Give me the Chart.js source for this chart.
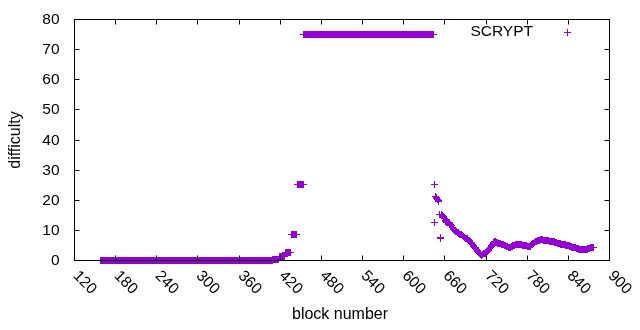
<!DOCTYPE html>
<html lang="en">
<head>
  <meta charset="utf-8">
  <title>SCRYPT difficulty</title>
  <script src="https://cdn.jsdelivr.net/npm/chart.js"></script>
  <style>
    html, body { margin: 0; padding: 0; background: #fff; }
    #chart { display: block; }
  </style>
</head>
<body>
<canvas id="chart" width="640" height="330"></canvas>
<script>
  // flat stretches: difficulty held for a run of blocks
  const flatStart = [158, 410, 419, 428, 437, 446, 455];
  const flatEnd   = [409, 418, 427, 436, 445, 454, 644];
  const flatValue = [0, 0.3, 1, 2.5, 8.3, 25, 75];

  // one value per block from tailStart on
  const tailStart = 645;
  const tailValues = [
    24.9, 12.5, 21.2, 20.8, 20.5, 20.1, 19.7, 19.3, 15.2, 7.0,
    7.4, 15.0, 14.7, 14.5, 14.2, 13.7, 13.2, 12.8, 12.6, 12.5,
    12.4, 12.3, 12.3, 12.1, 11.9, 11.6, 11.3, 10.9, 10.5, 10.1,
    9.8, 9.6, 9.5, 9.4, 9.2, 9.0, 8.8, 8.6, 8.5, 8.4,
    8.3, 8.1, 8.0, 7.8, 7.6, 7.4, 7.3, 7.2, 7.0, 6.8,
    6.6, 6.4, 6.1, 5.9, 5.7, 5.5, 5.2, 4.9, 4.6, 4.3,
    4.0, 3.7, 3.4, 3.1, 2.8, 2.5, 2.2, 2.0, 1.8, 1.6,
    1.7, 1.8, 2.0, 2.1, 2.2, 2.3, 2.4, 2.5, 2.8, 3.1,
    3.4, 3.7, 4.0, 4.4, 4.8, 5.2, 5.6, 5.9, 6.1, 6.0,
    5.9, 5.8, 5.7, 5.6, 5.6, 5.5, 5.5, 5.4, 5.3, 5.2,
    5.1, 5.0, 4.9, 4.8, 4.7, 4.6, 4.5, 4.4, 4.3, 4.3,
    4.2, 4.2, 4.3, 4.4, 4.6, 4.7, 4.8, 4.9, 5.0, 5.1,
    5.2, 5.2, 5.3, 5.3, 5.2, 5.2, 5.1, 5.0, 5.0, 4.9,
    4.9, 4.8, 4.8, 4.8, 4.7, 4.7, 4.6, 4.6, 4.6, 4.6,
    4.6, 4.8, 5.0, 5.2, 5.4, 5.6, 5.8, 5.9, 6.1, 6.2,
    6.3, 6.4, 6.5, 6.6, 6.6, 6.7, 6.7, 6.7, 6.7, 6.6,
    6.6, 6.6, 6.6, 6.6, 6.5, 6.5, 6.4, 6.4, 6.3, 6.3,
    6.2, 6.2, 6.1, 6.1, 6.0, 6.0, 5.9, 5.8, 5.8, 5.7,
    5.6, 5.6, 5.5, 5.5, 5.4, 5.3, 5.3, 5.2, 5.1, 5.1,
    5.0, 5.0, 4.9, 4.9, 4.8, 4.8, 4.7, 4.7, 4.6, 4.5,
    4.4, 4.3, 4.3, 4.2, 4.1, 4.1, 4.0, 3.9, 3.8, 3.7,
    3.7, 3.6, 3.5, 3.5, 3.5, 3.5, 3.5, 3.5, 3.5, 3.5,
    3.5, 3.5, 3.6, 3.6, 3.7, 3.7, 3.8, 3.9, 4.0, 4.0,
    4.1, 4.2, 4.3
  ];

  const xTicks = [120, 180, 240, 300, 360, 420, 480, 540, 600, 660, 720, 780, 840, 900];
  const yTicks = [0, 10, 20, 30, 40, 50, 60, 70, 80];
  const seriesName = 'SCRYPT';

  const points = [];
  flatStart.forEach((s, i) => {
    for (let b = s; b <= flatEnd[i]; b++) points.push({x: b, y: flatValue[i]});
  });
  tailValues.forEach((v, i) => points.push({x: tailStart + i, y: v}));

  const PURPLE = '#9400d3';
  const FONT = '15.5px "Liberation Sans", Arial, sans-serif';
  const TITLE_FONT = '16px "Liberation Sans", Arial, sans-serif';

  // crisp 7x7 plus used as the point glyph (gnuplot style pixels)
  const plus = document.createElement('canvas');
  plus.width = 7; plus.height = 7;
  {
    const p = plus.getContext('2d');
    p.fillStyle = PURPLE;
    p.fillRect(0, 3, 7, 1);
    p.fillRect(3, 0, 1, 7);
  }

  const crisp = {
    id: 'crisp',
    beforeDatasetsDraw(chart) {
      chart.ctx.save();
      chart.ctx.imageSmoothingEnabled = false;
    },
    afterDatasetsDraw(chart) {
      chart.ctx.restore();
    }
  };

  const frame = {
    id: 'frame',
    afterDatasetsDraw(chart) {
      const {ctx, chartArea: a, scales: {x, y}} = chart;
      ctx.save();
      ctx.strokeStyle = '#000';
      ctx.lineWidth = 1;
      const L = Math.round(a.left) + 0.5, R = Math.round(a.right) + 0.5;
      const T = Math.round(a.top) + 0.5, B = Math.round(a.bottom) + 0.5;
      ctx.strokeRect(L, T, R - L, B - T);

      ctx.fillStyle = '#000';
      ctx.font = FONT;
      xTicks.forEach(v => {
        const px = Math.round(x.getPixelForValue(v)) + 0.5;
        ctx.beginPath();
        ctx.moveTo(px, B); ctx.lineTo(px, B - 5);
        ctx.moveTo(px, T); ctx.lineTo(px, T + 5);
        ctx.stroke();
        ctx.save();
        ctx.translate(px + 1, B + 13);
        ctx.rotate(Math.PI / 4);
        ctx.textAlign = 'left';
        ctx.textBaseline = 'middle';
        ctx.fillText(String(v), 0, 0);
        ctx.restore();
      });
      yTicks.forEach(v => {
        const py = Math.round(y.getPixelForValue(v)) + 0.5;
        ctx.beginPath();
        ctx.moveTo(L, py); ctx.lineTo(L + 5, py);
        ctx.moveTo(R, py); ctx.lineTo(R - 5, py);
        ctx.stroke();
        ctx.textAlign = 'right';
        ctx.textBaseline = 'middle';
        ctx.fillText(String(v), L - 15, py);
      });

      // axis titles
      ctx.font = TITLE_FONT;
      ctx.textAlign = 'center';
      ctx.textBaseline = 'middle';
      ctx.fillText('block number', (L + R) / 2 - 2, 315);
      ctx.save();
      ctx.translate(16, (T + B) / 2);
      ctx.rotate(-Math.PI / 2);
      ctx.fillText('difficulty', 0, 0);
      ctx.restore();

      // key
      ctx.font = FONT;
      ctx.textAlign = 'right';
      ctx.fillText(seriesName, 533, 32);
      ctx.imageSmoothingEnabled = false;
      ctx.drawImage(plus, 564, 29);
      ctx.restore();
    }
  };

  new Chart(document.getElementById('chart'), {
    type: 'scatter',
    data: {
      datasets: [{
        label: seriesName,
        data: points,
        pointStyle: plus,
        pointRadius: 3.5,
        pointHoverRadius: 3.5,
        borderColor: PURPLE,
        backgroundColor: PURPLE,
        borderWidth: 1,
        clip: false
      }]
    },
    options: {
      responsive: false,
      animation: false,
      events: [],
      layout: {padding: {left: 74, right: 31, top: 19, bottom: 70}},
      scales: {
        x: {type: 'linear', min: 120, max: 900, display: false},
        y: {type: 'linear', min: 0, max: 80, display: false}
      },
      plugins: {legend: {display: false}, tooltip: {enabled: false}}
    },
    plugins: [crisp, frame]
  });
</script>
</body>
</html>
